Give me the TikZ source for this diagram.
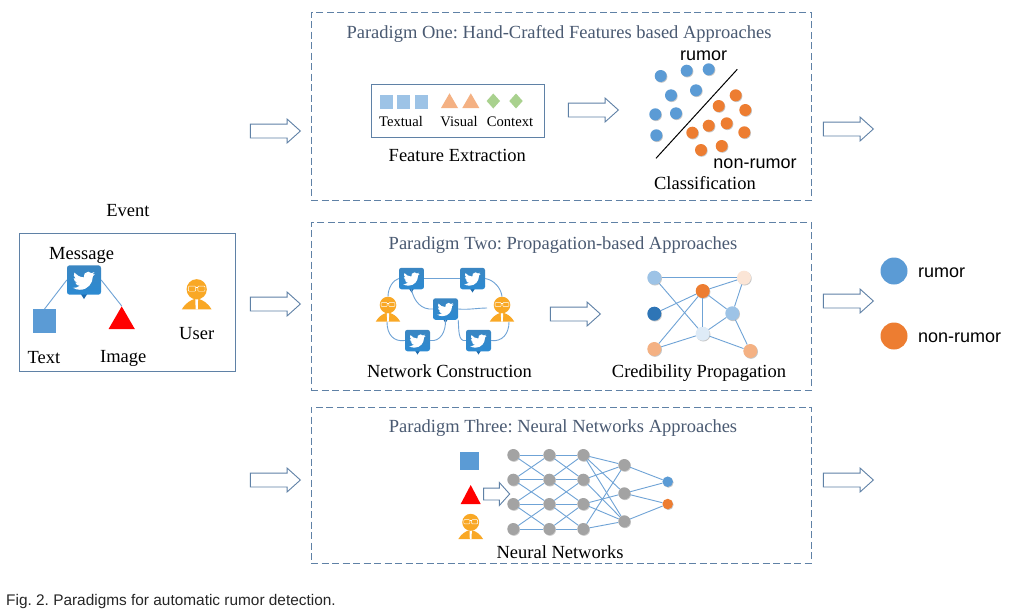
\documentclass[tikz,border=0pt]{standalone}
\usepackage{fontspec}
\setmainfont{Liberation Serif}
\newfontfamily\arialf{Liberation Sans}
\usetikzlibrary{shapes.arrows,shapes.geometric,shadows,calc}
\definecolor{boxline}{HTML}{5F81A6}
\definecolor{titlec}{HTML}{4A5A72}
\definecolor{edgec}{HTML}{6FA3D6}
\definecolor{mblue}{HTML}{5B9BD5}
\definecolor{morange}{HTML}{ED7D31}
\definecolor{lblue}{HTML}{9DC3E6}
\definecolor{lorange}{HTML}{F4B183}
\definecolor{lgreen}{HTML}{A9D18E}
\definecolor{dblue}{HTML}{2E75B6}
\definecolor{paleb}{HTML}{DEEBF7}
\definecolor{palep}{HTML}{FBE5D6}
\definecolor{uorange}{HTML}{F9A825}
\definecolor{tiletop}{HTML}{3A86C2}
\definecolor{tilemid}{HTML}{1E6AAC}
\definecolor{tilebot}{HTML}{2C8AD2}
\definecolor{nngray}{HTML}{A3A3A3}
\tikzset{
  dbox/.style={draw=boxline,line width=.8pt,dash pattern=on 7pt off 3.5pt},
  sbox/.style={draw=boxline,line width=.9pt},
  ptitle/.style={text=titlec,font=\fontsize{18.5}{20}\selectfont,inner sep=0pt},
  lab/.style={text=black,font=\fontsize{18.5}{20}\selectfont,inner sep=0pt},
  slab/.style={text=black,font=\fontsize{14.6}{16}\selectfont,inner sep=0pt},
  sanslab/.style={text=black,font=\arialf\fontsize{18}{20}\selectfont,inner sep=0pt},
  harrow/.style={single arrow,draw=boxline,fill=white,line width=.9pt,inner xsep=0pt,inner ysep=6.5pt,
    minimum height=50pt,single arrow head extend=5pt,
    single arrow tip angle=84,single arrow head indent=0pt},
  edge/.style={draw=edgec,line width=.9pt},
  blob/.style={circle,inner sep=0pt,minimum size=#1,
    drop shadow={shadow xshift=.7pt,shadow yshift=-.8pt,fill=black,opacity=.22}},
  tilen/.style={rounded corners=2.5pt,inner sep=0pt,
    top color=tiletop,middle color=tilemid,bottom color=tilebot},
}
\newcommand{\birdpath}{(23.95,4.57) .. controls (23.1,4.95) and (22.1,5.2) .. (21.13,5.35)
 .. controls (22.15,4.7) and (22.9,3.75) .. (23.29,2.62)
 .. controls (22.34,3.18) and (21.29,3.58) .. (20.16,3.8)
 .. controls (19.2,2.8) and (17.9,2.2) .. (16.6,2.2)
 .. controls (13.5,2.2) and (11.2,5.1) .. (11.78,8.28)
 .. controls (7.69,8.1) and (4.07,6.13) .. (1.64,3.16)
 .. controls (0.6,5) and (0.8,8.3) .. (3.16,9.73)
 .. controls (2.4,9.7) and (1.6,9.5) .. (0.93,9.12)
 .. controls (0.93,11.5) and (2.6,13.55) .. (4.88,14.0)
 .. controls (4.15,14.2) and (3.4,14.23) .. (2.66,14.09)
 .. controls (3.3,16.1) and (5.2,17.45) .. (7.27,17.5)
 .. controls (5.5,18.9) and (3.4,19.6) .. (1.17,19.6)
 .. controls (0.78,19.6) and (0.39,19.58) .. (0,19.54)
 .. controls (2.2,20.96) and (4.9,21.75) .. (7.56,21.75)
 .. controls (16.6,21.75) and (21.56,14.25) .. (21.56,7.77)
 .. controls (21.56,7.56) and (21.56,7.35) .. (21.54,7.14)
 .. controls (22.5,6.44) and (23.33,5.57) .. (24,4.59) -- cycle}
% name, x, y, scale (1 = 25x21 px)
\newcommand{\tile}[4]{%
  \fill[tilemid] (#2-3.2*#4,#3+9*#4) -- (#2+3.2*#4,#3+9*#4) -- (#2,#3+14*#4) -- cycle;
  \node[tilen,minimum width=25pt*#4,minimum height=21.5pt*#4] (#1) at (#2,#3) {};
  \begin{scope}[shift={(#2-8.2*#4,#3-7.6*#4)},x=.68pt*#4,y=-.68pt*#4]
    \fill[white] \birdpath;
  \end{scope}}
% name, x, y of head, scale
\newcommand{\person}[4]{%
  \fill[uorange] (#2-12.2*#4,#3+16.5*#4) .. controls (#2-9*#4,#3+11*#4) and (#2-5*#4,#3+9*#4) .. (#2-2*#4,#3+8*#4)
    -- (#2+2*#4,#3+8*#4) .. controls (#2+5*#4,#3+9*#4) and (#2+9*#4,#3+11*#4) .. (#2+12.2*#4,#3+16.5*#4) -- cycle;
  \fill[white] (#2-1.1*#4,#3+8*#4) -- (#2+1.1*#4,#3+8*#4) -- (#2+.9*#4,#3+16.5*#4) -- (#2-.9*#4,#3+16.5*#4) -- cycle;
  \node[circle,fill=uorange,inner sep=0pt,minimum size=16.6pt*#4] (#1) at (#2,#3) {};
  \draw[white,line width=.45pt,rounded corners=.8pt] (#2-6.8*#4,#3-2.6*#4) rectangle (#2-.9*#4,#3+1.6*#4);
  \draw[white,line width=.45pt,rounded corners=.8pt] (#2+.9*#4,#3-2.6*#4) rectangle (#2+6.8*#4,#3+1.6*#4);
  \draw[white,line width=.45pt] (#2-.9*#4,#3-1.6*#4) -- (#2+.9*#4,#3-1.6*#4);
}
\begin{document}
\frenchspacing
\begin{tikzpicture}[x=1pt,y=-1pt]
\useasboundingbox (0,0) rectangle (1010,614);
\fill[white] (0,0) rectangle (1010,614);
% paradigm boxes
\node[dbox,minimum width=500pt,minimum height=188pt,inner sep=0pt] (box1) at (561,106) {};
\node[dbox,minimum width=500pt,minimum height=168pt,inner sep=0pt] (box2) at (561,306) {};
\node[dbox,minimum width=500pt,minimum height=156pt,inner sep=0pt] (box3) at (561,485) {};
\node[ptitle] (t1) at (559,33.5) {Paradigm One: Hand-Crafted Features based Approaches};
\node[ptitle] (t2) at (563,245.5) {Paradigm Two: Propagation-based Approaches};
\node[ptitle] (t3) at (563,428.5) {Paradigm Three: Neural Networks Approaches};
% big arrows
\foreach \n/\xx/\yy in {la1/271.5/131,la2/271.5/304,la3/271.5/480,ra1/844.5/129,ra2/844.5/301,ra3/844.5/480,ma1/589.5/110,ma2/571.5/314}
  \node[harrow] (\n) at (\xx,\yy) {};
\node[harrow,inner ysep=5.5pt,minimum height=26pt,single arrow head extend=5.5pt,single arrow tip angle=96] (ma3) at (494,494) {};
% event
\node[lab] (ev) at (128,211) {Event};
\node[sbox,minimum width=215.5pt,minimum height=138pt,inner sep=0pt] (evbox) at (127.3,302) {};
\node[lab] (msg) at (81.6,255.5) {Message};
\tile{mt}{84}{280}{1.36}
\node[fill=mblue,minimum width=23pt,minimum height=23.5pt,inner sep=0pt] (txs) at (44.5,321) {};
\node[isosceles triangle,isosceles triangle apex angle=60,shape border rotate=90,fill=red,inner sep=0pt,
  minimum height=22.7pt,minimum width=26.3pt,isosceles triangle stretches] (imt) at (121.7,321.5) {};
\draw[edge] (mt.west) -- (txs.north);
\draw[edge] (mt.east) -- (imt.apex);
\node[lab] (txl) at (44,358) {Text};
\node[lab] (iml) at (123.3,358.5) {Image};
\person{eu}{196.7}{289.3}{1.22}
\node[lab] (usl) at (196.7,334) {User};
% feature extraction
\node[sbox,minimum width=173.4pt,minimum height=53pt,inner sep=0pt] (fbox) at (458,111.2) {};
\foreach \n/\xx in {s1/386.5,s2/403.5,s3/421.5}
  \node[fill=lblue,minimum width=13pt,minimum height=14pt,inner sep=0pt] (\n) at (\xx,102) {};
\foreach \n/\xx in {v1/449.5,v2/470.8}
  \fill[lorange] (\xx-8.5,108) -- (\xx+8.5,108) -- (\xx,93.3) -- cycle;
\foreach \n/\xx in {c1/493.3,c2/516}
  \fill[lgreen] (\xx-6.7,101) -- (\xx,93.5) -- (\xx+6.7,101) -- (\xx,108.5) -- cycle;
\node[slab] (lt) at (401,121.3) {Textual};
\node[slab] (lv) at (459,121.3) {Visual};
\node[slab] (lc) at (510,121.3) {Context};
\node[lab] (fe) at (457.3,155) {Feature Extraction};
% classification
\node[sanslab] (rum) at (703.7,55.5) {rumor};
\foreach \xx/\yy [count=\i] in {660.7/76,686.7/70.7,708.7/69.3,671/95.3,696/90.3,655.3/114.3,676/113.3,656.3/135.3}
  \node[blob=12pt,fill=mblue] (b\i) at (\xx,\yy) {};
\foreach \xx/\yy [count=\i] in {735.7/95.3,718.7/106,745.3/110,726.7/123.3,708.7/125.7,692.3/132.7,744.3/132.3,721.7/146,701/150}
  \node[blob=12pt,fill=morange] (o\i) at (\xx,\yy) {};
\coordinate (sep1) at (656,158.3);
\coordinate (sep2) at (737.3,69.3);
\draw[black,line width=1pt] (sep1) -- (sep2);
\node[sanslab] (nr) at (755,164) {non-rumor};
\node[lab] (cl) at (705,183) {Classification};
% network construction
\tile{n1}{411.5}{278.5}{1}
\tile{n2}{472.5}{278.5}{1}
\tile{n3}{445.5}{309}{1}
\tile{n4}{417.5}{340.5}{1}
\tile{n5}{478.5}{340.5}{1}
\person{ul}{388}{305}{1}
\person{ur}{502}{305}{1}
\coordinate (ulb) at (387,322);
\coordinate (urb) at (509,322);
\coordinate (urm) at (487,308);
\draw[edge] (n1.east) -- (n2.west);
\draw[edge] (n1.west) .. controls (393,280) and (388,288) .. (ul.north);
\draw[edge] (ulb) .. controls (387,335) and (394,342) .. (n4.west);
\draw[edge] (n4.east) .. controls (440,342) and (446,332) .. (n3.south);
\draw[edge] (n3.east) .. controls (468,310) and (478,308) .. (urm);
\draw[edge] (n1.south) .. controls (414,302) and (422,310) .. (n3.west);
\draw[edge] (n2.east) .. controls (494,280) and (501,288) .. (ur.north);
\draw[edge] (n3.south east) .. controls (459,330) and (458,342) .. (n5.west);
\draw[edge] (n5.east) .. controls (502,342) and (509,334) .. (urb);
\node[lab] (nc) at (449.5,371) {Network Construction};
% credibility propagation
\foreach \n/\xx/\yy/\cc in {A/654.3/277.7/lblue,B/744/277.7/palep,C/702.7/291/morange,D/654.3/313.7/dblue,E/732.3/313.3/lblue,F/702.7/333.7/paleb,G/654.3/349/lorange,H/750.3/351/lorange}
  \node[blob=14pt,fill=\cc] (\n) at (\xx,\yy) {};
\foreach \p/\q in {A/B,A/F,B/C,B/E,C/D,C/E,C/F,C/G,E/F,E/H,F/G,F/H}
  \draw[edge] (\p) -- (\q);
\node[lab] (cp) at (699,373) {Credibility Propagation};
% neural network
\node[fill=mblue,minimum width=19pt,minimum height=18pt,inner sep=0pt] (ins) at (469.5,461) {};
\fill[red] (460.7,504) -- (480.7,504) -- (470.7,485) -- cycle;
\person{inu}{470.7}{522.3}{1.02}
\foreach \yy [count=\r] in {455,479.7,504,529}{
  \node[blob=12pt,fill=nngray] (p\r) at (513.3,\yy) {};
  \node[blob=12pt,fill=nngray] (q\r) at (549.3,\yy) {};
  \node[blob=12pt,fill=nngray] (w\r) at (583.3,\yy) {};
}
\foreach \yy [count=\r] in {465,493.3,521.3}
  \node[blob=12pt,fill=nngray] (h\r) at (624.3,\yy) {};
\node[blob=10.5pt,fill=mblue] (out1) at (667.7,481.7) {};
\node[blob=10.5pt,fill=morange] (out2) at (667.7,504) {};
\foreach \a/\b in {1/1,1/2,2/1,2/2,2/3,3/2,3/3,3/4,4/3,4/4}{
  \draw[edge] (p\a) -- (q\b);
  \draw[edge] (q\a) -- (w\b);
}
\foreach \a/\b in {1/1,1/2,1/3,2/1,2/3,3/2,3/3,4/1,4/3}
  \draw[edge] (w\a) -- (h\b);
\foreach \a/\b in {h1/out1,h2/out1,h2/out2,h3/out2}
  \draw[edge] (\a) -- (\b);
\node[lab] (nn) at (560,552) {Neural Networks};
% legend
\node[circle,inner sep=0pt,minimum size=27pt,fill=mblue] (lg1) at (894,271) {};
\node[circle,inner sep=0pt,minimum size=27pt,fill=morange] (lg2) at (894,336) {};
\node[sanslab,anchor=west,inner sep=0pt] (lg1t) at (918,272.5) {rumor};
\node[sanslab,anchor=west,inner sep=0pt] (lg2t) at (918,337.5) {non-rumor};
% caption
\node[anchor=west,inner sep=0pt,text=black!85,font=\arialf\fontsize{15.4}{17}\selectfont] (cap) at (6,601.5) {Fig. 2. Paradigms for automatic rumor detection.};
\end{tikzpicture}
\end{document}
